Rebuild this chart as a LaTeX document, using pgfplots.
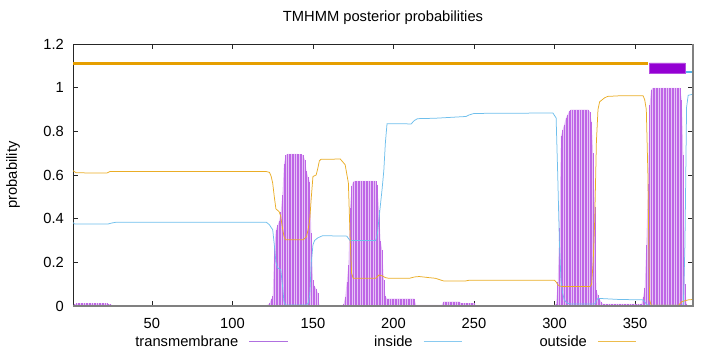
\documentclass[border=0pt]{standalone}
\usepackage{pgfplots}
\pgfplotsset{compat=1.18}
\usepackage{pgfplotstable}
\usepackage{fontspec}
\setmainfont{Liberation Sans}
\definecolor{tmdark}{HTML}{BE66E6}
\definecolor{tmlight}{HTML}{E6C4F6}
\definecolor{tmleg}{HTML}{B070E0}
\definecolor{tmbox}{HTML}{9400D3}
\definecolor{gblue}{HTML}{56B4E9}
\definecolor{gorange}{HTML}{E69F00}

\pgfplotstableread[row sep=\\]{
x y\\
1 0.004\\ 2 0.007\\ 3 0.012\\ 4 0.012\\ 5 0.012\\ 6 0.012\\ 7 0.012\\ 8 0.012\\ 9 0.012\\ 10 0.012\\
11 0.012\\ 12 0.012\\ 13 0.012\\ 14 0.012\\ 15 0.012\\ 16 0.012\\ 17 0.012\\ 18 0.012\\ 19 0.012\\ 20 0.012\\
21 0.012\\ 22 0.012\\ 23 0.010\\ 24 0.008\\ 25 0.005\\ 26 0.003\\ 27 0\\
118 0\\ 119 0.002\\ 120 0.003\\ 121 0.004\\ 122 0.006\\ 123 0.012\\ 124 0.030\\ 125 0.045\\
126 0.270\\ 127 0.350\\ 128 0.370\\ 129 0.390\\ 130 0.430\\ 131 0.510\\ 132 0.650\\ 133 0.690\\
134 0.696\\ 135 0.697\\ 136 0.697\\ 137 0.697\\ 138 0.697\\ 139 0.697\\ 140 0.697\\ 141 0.696\\
142 0.696\\ 143 0.694\\ 144 0.690\\ 145 0.670\\ 146 0.620\\ 147 0.590\\ 148 0.570\\ 149 0.335\\
150 0.120\\ 151 0.090\\ 152 0.080\\ 153 0.060\\ 154 0.005\\ 155 0\\
168 0\\ 169 0.008\\ 170 0.040\\ 171 0.110\\ 172 0.190\\ 173 0.450\\ 174 0.550\\ 175 0.570\\
176 0.573\\ 177 0.573\\ 178 0.573\\ 179 0.573\\ 180 0.573\\ 181 0.573\\ 182 0.573\\ 183 0.573\\
184 0.573\\ 185 0.573\\ 186 0.573\\ 187 0.573\\ 188 0.573\\ 189 0.573\\
190 0.555\\ 191 0.440\\ 192 0.300\\ 193 0.257\\ 194 0.120\\ 195 0.045\\
196 0.034\\ 197 0.034\\ 198 0.034\\ 199 0.034\\ 200 0.034\\ 201 0.034\\ 202 0.034\\ 203 0.034\\
204 0.034\\ 205 0.034\\ 206 0.034\\ 207 0.034\\ 208 0.034\\ 209 0.034\\ 210 0.034\\ 211 0.034\\
212 0.034\\ 213 0.034\\
214 0.005\\ 215 0.005\\ 216 0.005\\ 217 0.005\\ 218 0.005\\ 219 0.005\\ 220 0.005\\ 221 0.005\\
222 0.005\\ 223 0.005\\ 224 0.005\\ 225 0.005\\ 226 0.005\\ 227 0.005\\ 228 0.005\\ 229 0.005\\
230 0.005\\
231 0.020\\ 232 0.020\\ 233 0.020\\ 234 0.020\\ 235 0.020\\ 236 0.020\\ 237 0.020\\ 238 0.020\\
239 0.020\\ 240 0.020\\ 241 0.020\\
242 0.013\\ 243 0.013\\ 244 0.013\\ 245 0.013\\ 246 0.013\\ 247 0.013\\ 248 0.013\\ 249 0.013\\
250 0.013\\ 251 0.004\\ 252 0\\
296 0\\ 297 0.002\\ 298 0.003\\ 299 0.004\\ 300 0.005\\ 301 0.010\\ 302 0.110\\ 303 0.356\\
304 0.777\\ 305 0.807\\ 306 0.830\\ 307 0.860\\ 308 0.876\\ 309 0.891\\
310 0.899\\ 311 0.899\\ 312 0.899\\ 313 0.899\\ 314 0.899\\ 315 0.899\\ 316 0.899\\ 317 0.899\\
318 0.899\\ 319 0.899\\ 320 0.899\\ 321 0.899\\
322 0.890\\ 323 0.845\\ 324 0.700\\ 325 0.455\\ 326 0.073\\ 327 0.050\\ 328 0.030\\ 329 0.020\\
330 0.010\\ 331 0.010\\ 332 0.010\\ 333 0.010\\ 334 0.010\\ 335 0.010\\ 336 0.010\\ 337 0.010\\
338 0.010\\ 339 0.010\\ 340 0.010\\ 341 0.010\\ 342 0.010\\ 343 0.010\\ 344 0.010\\ 345 0.010\\
346 0.010\\ 347 0.010\\ 348 0.010\\ 349 0.010\\ 350 0.010\\ 351 0.010\\ 352 0.010\\ 353 0.010\\
354 0.010\\
355 0.043\\ 356 0.081\\ 357 0.280\\ 358 0.560\\ 359 0.920\\ 360 0.990\\
361 0.999\\ 362 0.999\\ 363 0.999\\ 364 0.999\\ 365 0.999\\ 366 0.999\\ 367 0.999\\ 368 0.999\\
369 0.999\\ 370 0.999\\ 371 0.999\\ 372 0.999\\ 373 0.999\\ 374 0.999\\ 375 0.999\\ 376 0.999\\
377 0.999\\ 378 0.999\\
379 0.945\\ 380 0.690\\ 381 0.100\\ 382 0.010\\ 383 0\\ 386 0\\
}\tmtab

\pgfplotstableread[row sep=\\]{
x y\\
1 0.382\\ 2 0.376\\ 23 0.376\\ 25 0.380\\ 28 0.384\\ 121 0.384\\ 122 0.378\\ 123 0.372\\
124 0.360\\ 125 0.350\\ 126 0.280\\ 127 0.200\\ 128 0.175\\ 130 0.166\\ 131 0.100\\ 132 0.020\\
133 0.005\\ 146 0.005\\ 147 0.012\\ 148 0.050\\ 149 0.200\\ 150 0.280\\ 151 0.300\\ 153 0.312\\
156 0.322\\ 171 0.320\\ 172 0.310\\ 173 0.300\\ 189 0.300\\ 190 0.330\\ 191 0.400\\ 192 0.470\\
193 0.540\\ 194 0.620\\ 195 0.750\\ 196 0.835\\ 211 0.834\\ 213 0.850\\ 215 0.858\\ 226 0.860\\
245 0.868\\ 247 0.875\\ 250 0.882\\ 299 0.884\\ 301 0.861\\ 302 0.600\\ 303 0.300\\ 304 0.120\\
305 0.060\\ 306 0.030\\ 307 0.020\\ 308 0.013\\ 310 0.009\\ 325 0.009\\ 326 0.025\\ 327 0.035\\
340 0.030\\ 355 0.028\\ 356 0.020\\ 357 0.008\\ 358 0.004\\ 380 0.004\\ 381 0.280\\ 382 0.910\\
383 0.965\\ 386 0.970\\
}\intab

\pgfplotstableread[row sep=\\]{
x y\\
1 0.620\\ 3 0.610\\ 22 0.609\\ 24 0.616\\ 121 0.616\\ 123 0.612\\ 124 0.595\\ 125 0.563\\
126 0.500\\ 127 0.445\\ 129 0.432\\ 130 0.410\\ 131 0.360\\ 132 0.320\\ 133 0.303\\ 144 0.303\\
145 0.310\\ 146 0.318\\ 147 0.350\\ 148 0.395\\ 149 0.500\\ 150 0.593\\ 152 0.600\\ 153 0.630\\
154 0.665\\ 155 0.672\\ 167 0.673\\ 170 0.647\\ 172 0.563\\ 173 0.330\\ 174 0.150\\ 175 0.127\\
189 0.127\\ 191 0.142\\ 193 0.138\\ 195 0.130\\ 197 0.127\\ 210 0.127\\ 213 0.133\\ 216 0.135\\
222 0.130\\ 226 0.127\\ 231 0.115\\ 245 0.115\\ 247 0.118\\ 300 0.118\\ 301 0.110\\ 302 0.098\\
303 0.092\\ 305 0.089\\ 322 0.089\\ 323 0.100\\ 324 0.200\\ 325 0.400\\ 326 0.750\\ 327 0.900\\
328 0.935\\ 331 0.953\\ 333 0.960\\ 341 0.963\\ 355 0.963\\ 356 0.945\\ 357 0.900\\ 358 0.600\\
359 0.030\\ 360 0.003\\ 377 0.003\\ 379 0.020\\ 383 0.028\\ 386 0.030\\
}\outtab

\begin{document}
\begin{tikzpicture}
\begin{axis}[
  scale only axis, width=620bp, height=262bp,
  xmin=1, xmax=386, ymin=0, ymax=1.2,
  xtick={50,100,...,350}, ytick={0,0.2,0.4,0.6,0.8,1,1.2},
  minor tick num=0,
  tick align=inside, major tick length=5bp,
  tick style={black!85, line width=0.6bp},
  axis line style={black!85, line width=0.8bp},
  font=\fontsize{14.7bp}{17bp}\selectfont,
  /pgf/number format/assume math mode=true,
  xticklabel style={anchor=base, yshift=-22bp, inner sep=0pt},
  yticklabel style={anchor=east, xshift=-9bp, inner sep=0pt},
  title={TMHMM posterior probabilities},
  title style={at={(0.5,1)}, anchor=base, yshift=16.7bp, inner sep=0pt},
  ylabel={probability},
  ylabel style={at={(axis description cs:-0.0968,0.5)}, anchor=center, inner sep=0pt},
  legend columns=3,
  legend plot pos=right,
  legend style={at={(axis description cs:0.0989,-0.1363)}, anchor=west, draw=none, fill=none,
    inner sep=0pt, outer sep=0pt, column sep=0pt,
    nodes={inner sep=0pt},
    /tikz/every odd column/.append style={column sep=10.5bp},
    /tikz/every even column/.append style={column sep=20.3bp}},
]
\addplot[fill=tmlight, draw=none, forget plot] table[x=x,y=y] {\tmtab} \closedcycle;
\addplot[ycomb, tmdark, line width=0.5bp, forget plot] table[x=x,y=y] {\tmtab};
\addplot[gblue!85!white, line width=0.75bp, forget plot] table[x=x,y=y] {\intab};
\addplot[gorange!85!white, line width=0.75bp, forget plot] table[x=x,y=y] {\outtab};
\addplot[gorange, line width=2.6bp, forget plot] coordinates {(1,1.111) (358.3,1.111)};
\addplot[fill=tmbox, draw=tmbox!70!white, line width=0.6bp, forget plot]
  coordinates {(358.9,1.067) (381.1,1.067) (381.1,1.113) (358.9,1.113) (358.9,1.067)};
\addplot[gblue, line width=2bp, forget plot] coordinates {(381.9,1.073) (386,1.073)};
\addlegendimage{legend image code/.code={\draw[tmleg, line width=1bp] (0bp,0bp) -- (38.5bp,0bp);}}
\addlegendentry{\makebox[104bp][r]{transmembrane}}
\addlegendimage{legend image code/.code={\draw[gblue!70!white, line width=1bp] (0bp,0bp) -- (38.5bp,0bp);}}
\addlegendentry{\makebox[104bp][r]{inside}}
\addlegendimage{legend image code/.code={\draw[gorange!70!white, line width=1bp] (0bp,0bp) -- (38.5bp,0bp);}}
\addlegendentry{\makebox[104bp][r]{outside}}
\end{axis}
\draw[black!50, line width=1.4bp] (current axis.north east) -- (current axis.south east) -- (current axis.south west);
\pgfresetboundingbox
\useasboundingbox ([shift={(-73bp,-46bp)}]current axis.south west) rectangle ([shift={(27bp,44bp)}]current axis.north east);
\end{tikzpicture}
\end{document}
